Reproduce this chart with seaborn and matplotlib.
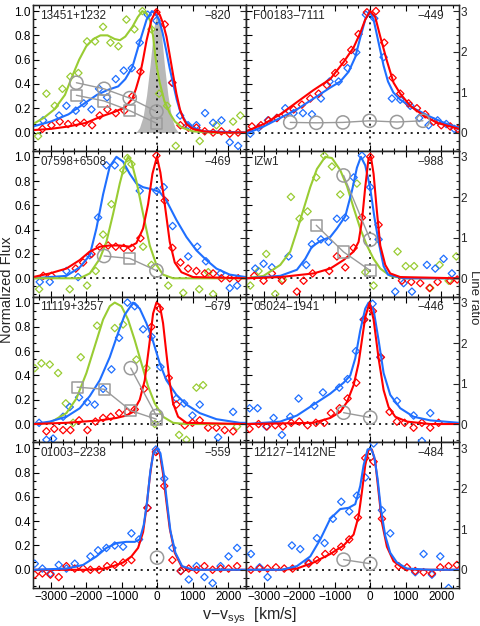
import numpy as np
import seaborn as sns
import matplotlib.pyplot as plt
from matplotlib.ticker import MultipleLocator, AutoMinorLocator

# ---------------- panel labels ----------------
names = ['13451+1232', 'F00183\u22127111', '07598+6508', 'IZw1',
         '11119+3257', '05024\u22121941', '01003\u22122238', '12127\u22121412NE']
offsets = ['\u2212820', '\u2212449', '\u2212469', '\u2212988',
           '\u2212679', '\u2212446', '\u2212559', '\u2212484']

RED, BLUE, GREEN, GRAY = '#ff0000', '#1f6fff', '#99cc33', '#9a9a9a'

# ---------------- 13451+1232 ----------------
fit1_green = [(-3500, 0.07), (-3200, 0.12), (-2900, 0.19), (-2600, 0.31), (-2400, 0.46), (-2200, 0.60),
              (-2000, 0.71), (-1800, 0.77), (-1600, 0.80), (-1400, 0.80), (-1200, 0.77), (-1050, 0.76),
              (-900, 0.79), (-700, 0.87), (-550, 0.95), (-420, 1.0), (-300, 0.98), (-200, 0.92),
              (-120, 0.80), (-50, 0.62), (0, 0.52), (70, 0.41), (200, 0.26), (350, 0.16), (500, 0.09),
              (700, 0.04), (1000, 0.01), (1500, 0.0), (2500, 0.0)]
fit1_blue = [(-3500, 0.05), (-3000, 0.09), (-2500, 0.15), (-2000, 0.25), (-1700, 0.31), (-1400, 0.35),
             (-1100, 0.38), (-900, 0.44), (-700, 0.54), (-500, 0.74), (-300, 0.93), (-150, 1.0),
             (-50, 0.98), (50, 0.93), (150, 0.82), (250, 0.68), (350, 0.53), (450, 0.40), (550, 0.27),
             (650, 0.17), (800, 0.09), (1000, 0.04), (1300, 0.01), (2500, 0.0)]
fit1_red = [(-3500, 0.02), (-3000, 0.03), (-2500, 0.05), (-2000, 0.08), (-1600, 0.13), (-1200, 0.17),
            (-900, 0.21), (-700, 0.28), (-600, 0.36), (-490, 0.47), (-400, 0.60), (-300, 0.76),
            (-160, 0.93), (-40, 1.0), (70, 0.97), (160, 0.90), (260, 0.79), (350, 0.64), (450, 0.47),
            (540, 0.32), (640, 0.19), (730, 0.12), (820, 0.07), (1000, 0.03), (1300, 0.01),
            (1800, 0.0), (2500, 0.0)]
pts1_green = [(-3357, -0.03), (-3122, 0.32), (-2887, 0.22), (-2671, 0.36), (-2446, 0.46), (-2221, 0.49),
              (-1977, 0.75), (-1751, 0.75), (-1526, 0.87), (-1319, 0.74), (-1094, 0.71), (-869, 0.93),
              (-643, 0.85), (-418, 1.0), (-164, 0.85), (52, 0.32), (277, 0.22), (521, -0.11),
              (1197, -0.07), (1667, 0.06), (2136, 0.09), (2340, 0.14)]
pts1_blue = [(-3216, 0.10), (-2765, 0.14), (-2559, 0.22), (-2296, 0.18), (-2070, 0.24), (-1854, 0.19),
             (-1639, 0.36), (-1413, 0.29), (-1169, 0.44), (-944, 0.51), (-718, 0.53), (-493, 0.74),
             (-268, 0.97), (-23, 0.92), (418, 0.41), (643, 0.14), (869, 0.06), (1103, 0.06),
             (1347, 0.16), (1573, 0.08), (1808, 0.10), (2042, -0.08), (2277, -0.11)]
pts1_red = [(-3235, 0.03), (-2981, 0.06), (-2746, 0.09), (-2512, 0.07), (-2277, 0.08), (-2061, 0.08),
            (-1836, 0.06), (-1620, 0.14), (-1404, 0.19), (-1169, 0.16), (-925, 0.18), (-700, 0.30),
            (-474, 0.50), (-23, 0.99), (211, 0.89), (427, 0.41), (653, 0.06), (878, 0.04),
            (1103, 0.04), (1338, 0.01), (1573, 0.0), (1808, 0.01), (2042, -0.01), (2277, 0.0)]
fill1 = [(-600, 0.0), (-500, 0.04), (-400, 0.13), (-300, 0.31), (-200, 0.56), (-100, 0.86), (0, 1.0),
         (100, 0.86), (200, 0.56), (300, 0.31), (400, 0.13), (500, 0.04), (600, 0.0)]
circ1 = [(-2277, 1.23), (-1498, 1.08), (-775, 0.85), (-23, 0.52)]
sq1 = [(-2277, 0.92), (-1498, 0.78), (-775, 0.54), (-23, 0.23)]

# ---------------- F00183-7111 ----------------
fit2_red = [(-3500, 0.01), (-3000, 0.07), (-2535, 0.15), (-2066, 0.25), (-1596, 0.35), (-1127, 0.44),
            (-751, 0.58), (-469, 0.70), (-282, 0.82), (-141, 0.93), (0, 1.0), (141, 0.95), (282, 0.79),
            (469, 0.59), (657, 0.41), (845, 0.32), (1127, 0.22), (1502, 0.14), (1878, 0.08),
            (2500, 0.03)]
fit2_blue = [(-3500, -0.01), (-3000, 0.05), (-2535, 0.12), (-2066, 0.19), (-1596, 0.28), (-1127, 0.37),
             (-845, 0.42), (-610, 0.50), (-423, 0.62), (-282, 0.78), (-141, 0.93), (-20, 1.0),
             (94, 0.93), (235, 0.74), (376, 0.55), (500, 0.42), (650, 0.33), (845, 0.27), (1221, 0.20),
             (1690, 0.13), (2160, 0.07), (2500, 0.04)]
pts2_red = [(-3333, 0.05), (-3080, 0.06), (-2864, 0.10), (-2629, 0.12), (-2394, 0.15), (-2160, 0.19),
            (-1925, 0.23), (-1690, 0.28), (-1455, 0.32), (-1221, 0.39), (-986, 0.49), (-751, 0.58),
            (-535, 0.68), (-329, 0.81), (-94, 0.99), (160, 1.0), (394, 0.74), (629, 0.45), (845, 0.32),
            (1080, 0.24), (1315, 0.20), (1549, 0.15), (1784, 0.09), (2000, 0.06), (2254, 0.05),
            (2469, 0.03)]
pts2_blue = [(-3380, -0.01), (-3146, 0.04), (-2883, 0.10), (-2629, 0.12), (-2394, 0.20), (-2160, 0.16),
             (-1897, 0.16), (-1643, 0.15), (-1390, 0.28), (-1146, 0.42), (-892, 0.42), (-638, 0.53),
             (-394, 0.66), (-122, 0.97), (113, 0.94), (376, 0.62), (610, 0.28), (845, 0.27),
             (1127, 0.22), (1380, 0.12), (1643, 0.06), (1897, 0.10), (2141, 0.07), (2366, 0.03)]
circ2 = [(-2254, 0.25), (-1521, 0.24), (-770, 0.25), (-19, 0.29), (751, 0.26), (1484, 0.29)]

# ---------------- 07598+6508 ----------------
fit3_red = [(-3500, 0.01), (-3028, 0.04), (-2559, 0.08), (-2183, 0.15), (-1901, 0.22), (-1620, 0.26),
            (-1338, 0.27), (-1056, 0.27), (-775, 0.26), (-587, 0.29), (-399, 0.41), (-258, 0.61),
            (-136, 0.86), (-10, 1.0), (89, 0.87), (211, 0.61), (352, 0.30), (493, 0.13), (681, 0.05),
            (1009, 0.01), (2500, 0.0)]
fit3_blue = [(-3500, 0.0), (-2559, 0.02), (-2183, 0.09), (-1901, 0.19), (-1714, 0.41), (-1526, 0.69),
             (-1338, 0.92), (-1150, 1.0), (-962, 0.96), (-775, 0.86), (-587, 0.78), (-399, 0.75),
             (-117, 0.73), (70, 0.71), (258, 0.64), (540, 0.48), (822, 0.34), (1103, 0.23),
             (1385, 0.15), (1667, 0.08), (2042, 0.03), (2500, 0.01)]
fit3_green = [(-3500, 0.0), (-2183, 0.0), (-1901, 0.04), (-1620, 0.16), (-1432, 0.30), (-1244, 0.53),
              (-1056, 0.78), (-915, 0.94), (-822, 1.0), (-728, 0.96), (-587, 0.80), (-399, 0.53),
              (-211, 0.27), (-23, 0.11), (164, 0.03), (446, 0.0), (2500, 0.0)]
pts3_green = [(-3326, -0.09), (-2465, -0.09), (-1977, -0.06), (-1732, 0.06), (-1526, 0.36),
              (-1291, 0.61), (-958, 0.89), (-840, 0.99), (-728, 0.94), (-399, 0.26), (-164, 0.11),
              (310, -0.06), (732, -0.12), (1183, -0.09), (1437, 0.05), (1573, -0.13)]
pts3_blue = [(-3310, -0.03), (-3028, -0.03), (-2559, 0.06), (-2230, 0.01), (-1901, 0.19), (-1667, 0.50),
             (-1432, 0.93), (-1197, 0.93), (-493, 0.72), (-23, 0.72), (183, 0.75), (432, 0.43),
             (873, 0.18), (1127, 0.26), (1371, 0.14), (1784, 0.04), (2042, -0.08), (2250, -0.06)]
pts3_red = [(-3211, 0.02), (-2981, 0.02), (-2296, 0.08), (-2089, 0.13), (-1854, 0.20), (-1620, 0.26),
            (-1385, 0.27), (-1169, 0.26), (-944, 0.25), (-718, 0.25), (-474, 0.33), (-23, 1.01),
            (211, 0.64), (427, 0.25), (653, 0.13), (869, 0.08), (1103, 0.06), (1338, 0.04),
            (1573, 0.04), (1808, 0.0), (2042, 0.0), (2280, 0.0)]
circ3 = [(-1497, 0.55), (-23, 0.19)]
sq3 = [(-775, 0.49)]
path3 = [(-1497, 0.55), (-775, 0.49), (-23, 0.19)]

# ---------------- IZw1 ----------------
fit4_red = [(-3500, 0.0), (-2535, 0.01), (-1596, 0.04), (-1127, 0.08), (-751, 0.15), (-469, 0.22),
            (-329, 0.30), (-235, 0.47), (-141, 0.75), (-47, 0.99), (19, 1.0), (94, 0.86), (188, 0.55),
            (282, 0.27), (423, 0.11), (563, 0.04), (845, 0.01), (2500, 0.0)]
fit4_blue = [(-3500, 0.0), (-2535, 0.02), (-2066, 0.07), (-1831, 0.16), (-1643, 0.26), (-1390, 0.31),
             (-1127, 0.34), (-939, 0.41), (-704, 0.51), (-516, 0.72), (-376, 0.91), (-263, 1.0),
             (-141, 0.93), (0, 0.74), (118, 0.50), (235, 0.30), (376, 0.10), (500, 0.03), (939, 0.0),
             (2500, 0.0)]
fit4_green = [(-3500, 0.0), (-3005, 0.02), (-2535, 0.11), (-2254, 0.22), (-2066, 0.39), (-1878, 0.57),
              (-1690, 0.75), (-1502, 0.90), (-1268, 1.0), (-1080, 0.99), (-845, 0.89), (-657, 0.76),
              (-469, 0.58), (-282, 0.41), (-94, 0.27), (94, 0.16), (282, 0.08), (563, 0.02),
              (939, 0.0), (2500, 0.0)]
pts4_green = [(-3380, -0.06), (-3146, 0.06), (-2930, 0.20), (-2676, -0.13), (-2460, -0.01), (-2235, 0.67),
              (-1991, 0.49), (-1765, 0.55), (-1521, 0.83), (-1296, 1.01), (-1080, 0.92), (-845, 0.69),
              (-376, 0.78), (-141, 0.05), (94, -0.06), (770, 0.22), (1000, 0.10), (1235, 0.10),
              (1690, -0.08), (1953, 0.11), (2207, -0.02), (2423, 0.18)]
pts4_blue = [(-3239, 0.08), (-3005, 0.12), (-2770, 0.09), (-2300, 0.18), (-1803, 0.11), (-1643, 0.28),
             (-1390, 0.32), (-1174, 0.30), (-939, 0.49), (-704, 0.50), (-469, 0.83), (-235, 1.01),
             (0, 0.75), (235, 0.32), (704, -0.11), (939, -0.04), (1174, -0.11), (1596, 0.11),
             (1831, 0.08), (2066, 0.16), (2300, 0.04)]
pts4_red = [(-3268, 0.02), (-3005, -0.02), (-2770, 0.04), (-2488, -0.02), (-2066, -0.11), (-1878, -0.02),
            (-1624, 0.04), (-1155, 0.06), (-939, 0.18), (-704, 0.09), (-469, 0.25), (-235, 0.50),
            (0, 1.0), (235, 0.44), (892, -0.02), (1155, -0.03), (1408, -0.04), (1671, -0.08),
            (1897, -0.03), (2254, -0.02), (2450, -0.01)]
circ4 = [(-751, 2.54), (0, 0.95)]
sq4 = [(-1521, 1.31), (-751, 0.65), (0, 0.19)]

# ---------------- 11119+3257 ----------------
fit5_red = [(-3500, 0.0), (-2559, 0.01), (-1620, 0.03), (-1150, 0.05), (-869, 0.07), (-681, 0.10),
            (-493, 0.20), (-352, 0.36), (-230, 0.64), (-117, 0.91), (-23, 1.0), (70, 0.98), (164, 0.83),
            (258, 0.58), (352, 0.34), (446, 0.17), (587, 0.06), (822, 0.01), (2500, 0.0)]
fit5_blue = [(-3500, 0.0), (-3028, 0.02), (-2559, 0.06), (-2183, 0.13), (-1901, 0.23), (-1620, 0.36),
             (-1338, 0.55), (-1103, 0.75), (-915, 0.90), (-681, 1.0), (-493, 0.95), (-305, 0.83),
             (-117, 0.68), (70, 0.50), (258, 0.36), (540, 0.24), (822, 0.16), (1197, 0.09),
             (1667, 0.04), (2324, 0.01), (2500, 0.01)]
fit5_green = [(-3500, 0.0), (-3028, 0.01), (-2559, 0.09), (-2277, 0.21), (-1995, 0.42), (-1761, 0.64),
              (-1526, 0.86), (-1338, 0.97), (-1197, 1.0), (-1009, 0.97), (-822, 0.86), (-634, 0.69),
              (-446, 0.50), (-258, 0.31), (-70, 0.17), (164, 0.06), (446, 0.01), (800, 0.0),
              (2500, 0.0)]
pts5_green = [(-3451, 0.46), (-3263, 0.50), (-3028, 0.49), (-2793, 0.42), (-2577, 0.17), (-2371, 0.01),
              (-2155, 0.55), (-1695, 0.81), (-1197, 0.79), (-962, 0.82), (-587, 0.53), (-305, 0.46),
              (-70, 0.0), (615, -0.09), (822, -0.13), (1103, 0.30), (1291, 0.32), (2248, -0.02)]
pts5_blue = [(-3329, 0.01), (-3122, -0.13), (-2934, -0.12), (-2653, 0.06), (-2465, 0.14), (-2202, 0.22),
             (-1977, 0.18), (-1761, 0.16), (-1526, 0.29), (-1291, 0.45), (-1075, 0.71), (-840, 1.0),
             (-634, 0.97), (-399, 0.78), (-164, 0.72), (89, 0.47), (540, 0.21), (756, 0.17),
             (991, 0.07), (1197, 0.16), (1714, -0.11), (2136, 0.10)]
pts5_red = [(-3122, -0.06), (-2900, -0.04), (-2653, -0.05), (-2446, -0.05), (-2202, 0.03), (-1967, -0.05),
            (-1742, 0.02), (-1526, 0.05), (-1310, 0.06), (-1075, 0.09), (-850, 0.10), (-634, 0.12),
            (-371, 0.29), (-164, 0.80), (70, 0.95), (324, 0.38), (540, 0.16), (775, -0.01),
            (991, 0.01), (1197, 0.03), (1432, -0.03), (1667, -0.03), (1901, -0.05), (2136, -0.06)]
circ5 = [(-746, 1.38), (-23, 0.20)]
sq5 = [(-2257, 0.91), (-1497, 0.86), (-746, 0.33), (-23, 0.12)]

# ---------------- 05024-1941 ----------------
fit6_red = [(-3500, 0.0), (-1596, 0.01), (-1127, 0.05), (-845, 0.10), (-657, 0.18), (-469, 0.32),
            (-329, 0.50), (-235, 0.69), (-141, 0.88), (-19, 1.0), (94, 0.86), (235, 0.54), (376, 0.28),
            (516, 0.14), (704, 0.06), (1033, 0.02), (1690, 0.0), (2500, 0.0)]
fit6_blue = [(-3500, 0.0), (-3005, 0.01), (-2535, 0.02), (-2066, 0.07), (-1596, 0.16), (-1127, 0.25),
             (-751, 0.34), (-563, 0.40), (-423, 0.54), (-282, 0.77), (-141, 0.95), (-47, 1.0),
             (94, 0.94), (235, 0.69), (376, 0.42), (563, 0.24), (845, 0.13), (1221, 0.06),
             (1690, 0.03), (2500, 0.01)]
pts6_blue = [(-3399, 0.13), (-3174, 0.13), (-2930, -0.02), (-2723, 0.05), (-2488, -0.09), (-2254, 0.06),
             (-2019, 0.21), (-1577, 0.15), (-1333, 0.26), (-873, 0.30), (-638, 0.37), (-404, 0.60),
             (-188, 0.86), (66, 0.99), (282, 0.55), (751, 0.19), (1221, 0.07), (1455, -0.14),
             (1690, 0.09)]
pts6_red = [(-3399, -0.04), (-3146, 0.0), (-2911, -0.02), (-2676, -0.01), (-2460, -0.02), (-2225, 0.01),
            (-2000, 0.02), (-1765, -0.01), (-1531, 0.01), (-1296, 0.01), (-1108, 0.09), (-864, 0.13),
            (-638, 0.21), (-394, 0.34), (-169, 0.86), (75, 0.93), (300, 0.55), (545, 0.10),
            (751, 0.02), (967, 0.01), (1221, -0.03), (1455, 0.01), (1690, -0.03), (1925, 0.01)]
circ6 = [(-751, 0.28), (0, 0.16)]

# ---------------- 01003-2238 ----------------
fit7_red = [(-3500, 0.0), (-2000, 0.0), (-1500, 0.01), (-1244, 0.03), (-962, 0.06), (-728, 0.11),
            (-540, 0.18), (-399, 0.31), (-305, 0.51), (-211, 0.76), (-117, 0.96), (-23, 1.0),
            (70, 0.96), (164, 0.79), (258, 0.56), (352, 0.34), (493, 0.14), (681, 0.03), (915, 0.0),
            (2500, 0.0)]
fit7_blue = [(-3500, 0.0), (-2559, 0.01), (-2089, 0.04), (-1714, 0.11), (-1432, 0.18), (-1146, 0.22),
             (-869, 0.23), (-634, 0.23), (-493, 0.25), (-380, 0.37), (-286, 0.56), (-192, 0.82),
             (-99, 0.97), (-5, 1.0), (89, 0.96), (183, 0.79), (277, 0.55), (371, 0.32), (512, 0.14),
             (700, 0.03), (1009, 0.0), (2500, 0.0)]
pts7_blue = [(-3451, 0.05), (-3235, 0.01), (-3009, -0.03), (-2775, 0.04), (-2559, 0.01), (-2324, 0.05),
             (-1883, 0.11), (-1667, 0.16), (-1432, 0.18), (-1197, 0.20), (-962, 0.19), (-728, 0.30),
             (-512, 0.25), (-272, 0.51), (-38, 0.99), (197, 0.75), (427, 0.18), (662, -0.01),
             (887, -0.08), (1108, 0.03), (1329, -0.06), (1559, -0.11), (1784, 0.03), (2009, 0.11),
             (2249, 0.18)]
pts7_red = [(-3451, -0.04), (-3235, -0.03), (-3009, -0.04), (-2775, -0.06), (-2559, 0.03), (-2324, 0.01),
            (-2089, 0.01), (-1883, 0.0), (-1639, 0.0), (-1413, 0.03), (-1197, 0.04), (-962, 0.06),
            (-728, 0.08), (-277, 0.51), (-38, 0.97), (197, 0.69), (427, 0.08), (662, -0.01),
            (887, 0.01), (1108, 0.0), (1329, 0.03), (1559, 0.0), (1784, 0.01), (2009, 0.01),
            (2249, 0.03)]
circ7 = [(-5, 0.30)]

# ---------------- 12127-1412NE ----------------
fit8_red = [(-3500, 0.0), (-2500, 0.0), (-2066, 0.01), (-1596, 0.06), (-1127, 0.13), (-751, 0.20),
            (-469, 0.29), (-329, 0.44), (-235, 0.64), (-141, 0.86), (-47, 0.99), (47, 0.99),
            (141, 0.89), (235, 0.64), (329, 0.39), (469, 0.19), (657, 0.07), (939, 0.01), (1315, 0.0),
            (2500, 0.0)]
fit8_blue = [(-3500, 0.0), (-2500, 0.0), (-2066, 0.03), (-1690, 0.11), (-1408, 0.25), (-1127, 0.42),
             (-845, 0.50), (-610, 0.51), (-423, 0.54), (-282, 0.69), (-188, 0.86), (-75, 0.99),
             (19, 1.0), (113, 0.93), (207, 0.75), (300, 0.50), (423, 0.28), (563, 0.14), (751, 0.06),
             (1033, 0.01), (1690, 0.0), (2500, 0.0)]
pts8_blue = [(-3362, 0.13), (-3117, 0.02), (-2892, -0.06), (-2207, 0.20), (-1972, 0.17), (-1737, 0.06),
             (-1502, 0.26), (-1286, 0.22), (-1052, 0.42), (-817, 0.56), (-592, 0.48), (-376, 0.61),
             (-141, 0.76), (94, 1.04), (329, 0.49), (563, 0.30), (1268, -0.02), (1502, 0.13),
             (1737, -0.04), (1972, 0.11), (2207, -0.15)]
pts8_red = [(-3362, 0.0), (-3117, 0.01), (-2892, 0.01), (-2657, 0.02), (-2423, 0.01), (-2188, 0.01),
            (-1737, 0.05), (-1502, 0.08), (-1268, 0.13), (-1033, 0.15), (-817, 0.19), (-592, 0.25),
            (-347, 0.43), (-141, 0.92), (94, 0.89), (329, 0.42), (798, 0.03), (1033, 0.02),
            (1268, -0.01), (1502, -0.02), (1737, -0.03), (1972, 0.02), (2207, 0.03), (2441, 0.04)]
circ8 = [(-751, 0.25), (0, 0.15)]

# table of panels (row-major order)
panels = [
    dict(fits=[(GREEN, fit1_green), (BLUE, fit1_blue), (RED, fit1_red)],
         pts=[(GREEN, pts1_green), (BLUE, pts1_blue), (RED, pts1_red)],
         fill=fill1, circ=circ1, sq=sq1, paths=[circ1, sq1]),
    dict(fits=[(BLUE, fit2_blue), (RED, fit2_red)],
         pts=[(BLUE, pts2_blue), (RED, pts2_red)],
         fill=None, circ=circ2, sq=[], paths=[circ2]),
    dict(fits=[(BLUE, fit3_blue), (GREEN, fit3_green), (RED, fit3_red)],
         pts=[(GREEN, pts3_green), (BLUE, pts3_blue), (RED, pts3_red)],
         fill=None, circ=circ3, sq=sq3, paths=[path3]),
    dict(fits=[(GREEN, fit4_green), (BLUE, fit4_blue), (RED, fit4_red)],
         pts=[(GREEN, pts4_green), (BLUE, pts4_blue), (RED, pts4_red)],
         fill=None, circ=circ4, sq=sq4, paths=[circ4, sq4]),
    dict(fits=[(GREEN, fit5_green), (BLUE, fit5_blue), (RED, fit5_red)],
         pts=[(GREEN, pts5_green), (BLUE, pts5_blue), (RED, pts5_red)],
         fill=None, circ=circ5, sq=sq5, paths=[circ5, sq5]),
    dict(fits=[(BLUE, fit6_blue), (RED, fit6_red)],
         pts=[(BLUE, pts6_blue), (RED, pts6_red)],
         fill=None, circ=circ6, sq=[], paths=[circ6]),
    dict(fits=[(RED, fit7_red), (BLUE, fit7_blue)],
         pts=[(BLUE, pts7_blue), (RED, pts7_red)],
         fill=None, circ=circ7, sq=[], paths=[]),
    dict(fits=[(RED, fit8_red), (BLUE, fit8_blue)],
         pts=[(BLUE, pts8_blue), (RED, pts8_red)],
         fill=None, circ=circ8, sq=[], paths=[circ8]),
]


def xy(pairs):
    a = np.array(pairs, dtype=float)
    return a[:, 0], a[:, 1]


sns.set_style('ticks')
plt.rcParams['font.family'] = ['Liberation Sans', 'DejaVu Sans']
plt.rcParams['mathtext.fontset'] = 'custom'
plt.rcParams['mathtext.rm'] = 'Liberation Sans'
plt.rcParams['mathtext.it'] = 'Liberation Sans:italic'

fig, axes = plt.subplots(4, 2, figsize=(4.8, 6.26), dpi=100, sharex=True, sharey=True)
fig.subplots_adjust(left=33 / 480, right=459 / 480, top=1 - 5 / 626, bottom=1 - 588 / 626,
                    hspace=0, wspace=0)

for i, (ax, p) in enumerate(zip(axes.flat, panels)):
    row, col = divmod(i, 2)

    if p['fill'] is not None:
        v, f = xy(p['fill'])
        ax.fill_between(v, 0, f, color='#b8b8b8', lw=0, zorder=1)

    ax.axvline(0, color='k', ls=(0, (1.2, 2.6)), lw=1.2, zorder=2)
    ax.axhline(0, color='k', ls=(0, (1.2, 2.6)), lw=1.2, zorder=2)

    for c, pts in p['pts']:
        v, f = xy(pts)
        sns.scatterplot(x=v, y=f, marker='D', s=14, facecolor='none', edgecolor=c,
                        linewidth=0.9, ax=ax, zorder=3, legend=False)
    for c, fit in p['fits']:
        v, f = xy(fit)
        sns.lineplot(x=v, y=f, color=c, lw=1.5, sort=False, estimator=None, ax=ax, zorder=4)

    ax.set_xlim(-3500, 2500)
    ax.set_ylim(-0.15, 1.05)
    ax.xaxis.set_major_locator(MultipleLocator(1000))
    ax.xaxis.set_minor_locator(AutoMinorLocator(3))
    ax.yaxis.set_major_locator(MultipleLocator(0.2))
    ax.yaxis.set_minor_locator(AutoMinorLocator(3))
    ax.yaxis.set_major_formatter(plt.FormatStrFormatter('%.1f'))
    ax.tick_params(which='both', direction='in', top=True, bottom=True, left=True, right=False,
                   labelsize=8.5, width=0.8, colors='k')
    ax.tick_params(which='major', length=4.5)
    ax.tick_params(which='minor', length=2.5)
    ax.tick_params(axis='x', which='major', pad=2.5)
    ax.tick_params(axis='y', which='major', pad=1.5)
    ax.set_xlabel('')
    ax.set_ylabel('')
    for s in ax.spines.values():
        s.set_linewidth(1.0)
        s.set_color('k')

    ax.text(0.035, 0.925, names[i], transform=ax.transAxes, ha='left', va='center', fontsize=8.5)
    ax.text(0.93, 0.925, offsets[i], transform=ax.transAxes, ha='right', va='center', fontsize=8.5)

    # line ratio on the right-hand scale
    tw = ax.twinx()
    for path in p['paths']:
        v, r = xy(path)
        sns.lineplot(x=v, y=r, color=GRAY, lw=1.0, sort=False, estimator=None, ax=tw)
    if p['circ']:
        v, r = xy(p['circ'])
        sns.scatterplot(x=v, y=r, marker='o', s=90, facecolor='none', edgecolor=GRAY,
                        linewidth=1.1, ax=tw, legend=False, zorder=5)
    if p['sq']:
        v, r = xy(p['sq'])
        sns.scatterplot(x=v, y=r, marker='s', s=65, facecolor='none', edgecolor=GRAY,
                        linewidth=1.1, ax=tw, legend=False, zorder=5)
    tw.set_ylim(-0.45, 3.15)
    tw.yaxis.set_major_locator(MultipleLocator(1))
    tw.yaxis.set_minor_locator(MultipleLocator(0.2))
    tw.tick_params(axis='y', which='both', direction='in', labelsize=8.5, width=0.8,
                   labelright=(col == 1), pad=1)
    tw.tick_params(axis='y', which='major', length=4.5)
    tw.tick_params(axis='y', which='minor', length=2.5)
    tw.set_ylabel('')
    tw.set_xlim(-3500, 2500)

fig.text(7 / 480, 1 - 290 / 626, 'Normalized Flux', rotation=90, ha='center', va='center', fontsize=10.5)
fig.text(474 / 480, 1 - 297 / 626, 'Line ratio', rotation=270, ha='center', va='center', fontsize=9.5)
fig.text(250 / 480, 1 - 616 / 626, r'v$-$v$_{\rm sys}$  [km/s]', ha='center', va='center', fontsize=11.5)

fig.savefig('out.png', dpi=100)
